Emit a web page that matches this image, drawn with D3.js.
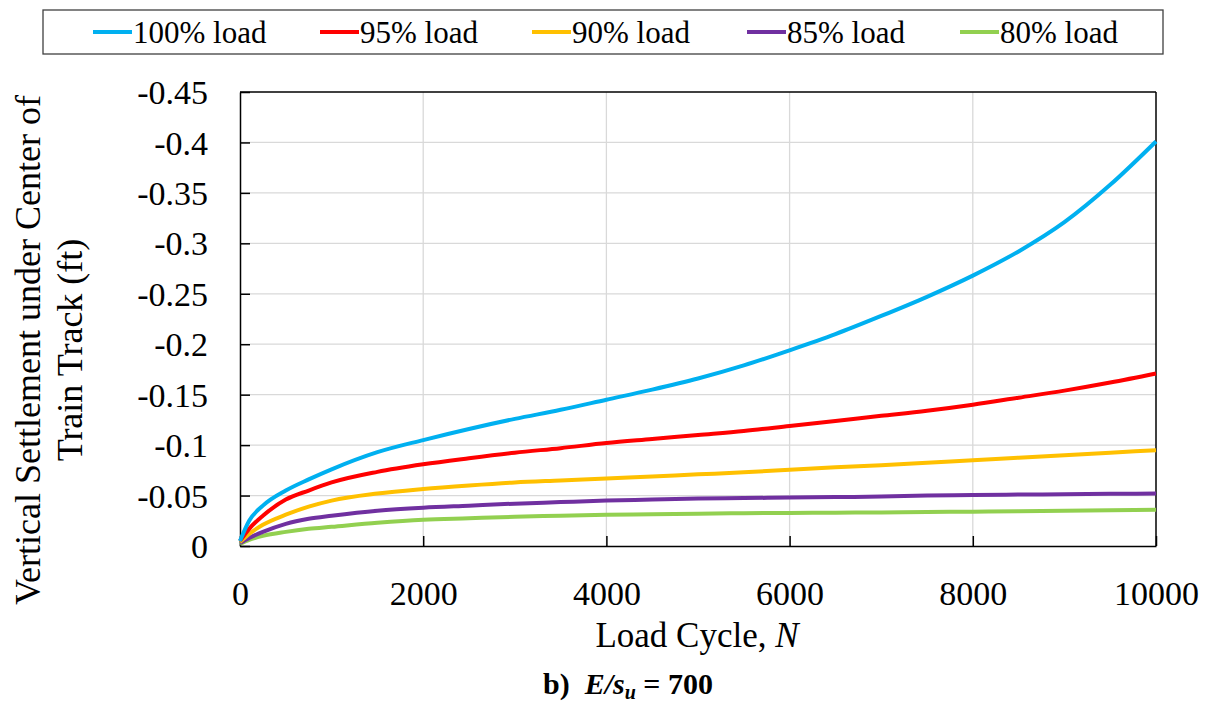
<!DOCTYPE html>
<html>
<head>
<meta charset="utf-8">
<script src="https://cdn.jsdelivr.net/npm/d3@7"></script>
<style>
  body { margin: 0; background: #fff; }
</style>
</head>
<body>
<div id="chart"></div>
<script>
var serif = 'Liberation Serif'

// load cycles (x) shared by every series
var cycles = [0, 100, 250, 500, 750, 1000, 1500, 2000, 2500, 3000, 3500, 4000, 4500,
              5000, 5500, 6000, 6500, 7000, 7500, 8000, 8500, 9000, 9500, 10000]

// settlement (ft)
var load100 = [-0.005, -0.025, -0.040, -0.055, -0.066, -0.076, -0.093, -0.105, -0.116, -0.126, -0.135, -0.145, -0.155,
               -0.166, -0.179, -0.194, -0.210, -0.228, -0.247, -0.268, -0.292, -0.321, -0.358, -0.401]
var load95 = [-0.005, -0.017, -0.030, -0.046, -0.055, -0.063, -0.0735, -0.081, -0.087, -0.0925, -0.097, -0.102, -0.106,
              -0.110, -0.114, -0.119, -0.124, -0.129, -0.134, -0.140, -0.147, -0.154, -0.162, -0.171]
var load90 = [-0.004, -0.012, -0.021, -0.031, -0.039, -0.045, -0.052, -0.0565, -0.060, -0.063, -0.065, -0.067, -0.069,
              -0.071, -0.073, -0.0755, -0.078, -0.080, -0.0825, -0.085, -0.0875, -0.090, -0.0925, -0.095]
var load85 = [-0.003, -0.008, -0.014, -0.022, -0.027, -0.030, -0.035, -0.038, -0.040, -0.042, -0.0435, -0.045, -0.046,
              -0.047, -0.0475, -0.048, -0.0485, -0.049, -0.050, -0.0505, -0.051, -0.0513, -0.0517, -0.052]
var load80 = [-0.002, -0.006, -0.010, -0.014, -0.017, -0.019, -0.023, -0.026, -0.0275, -0.029, -0.030, -0.031, -0.0315,
              -0.032, -0.0325, -0.0328, -0.033, -0.0333, -0.0337, -0.034, -0.0345, -0.035, -0.0355, -0.036]

var seriesNames = ['100% load', '95% load', '90% load', '85% load', '80% load']
var seriesColors = ['#00B0F0', '#FF0000', '#FFC000', '#7030A0', '#92D050']
var seriesValues = [load100, load95, load90, load85, load80]

var xTicks = [0, 2000, 4000, 6000, 8000, 10000]
var yTicks = [0, -0.05, -0.1, -0.15, -0.2, -0.25, -0.3, -0.35, -0.4, -0.45]

var width = 1214, height = 706
var plot = {left: 240, top: 92, right: 1156, bottom: 546}

var svg = d3.select('#chart').append('svg')
    .attr('width', width)
    .attr('height', height)
    .attr('font-family', serif)

var x = d3.scaleLinear().domain([0, 10000]).range([plot.left, plot.right])
var y = d3.scaleLinear().domain([0, -0.45]).range([plot.bottom, plot.top])

// gridlines
svg.append('g')
    .selectAll('line')
    .data(yTicks.slice(1, -1))
    .enter().append('line')
    .attr('x1', plot.left).attr('x2', plot.right)
    .attr('y1', function(d) { return y(d) }).attr('y2', function(d) { return y(d) })
    .attr('stroke', '#d9d9d9').attr('stroke-width', 1.3)

svg.append('g')
    .selectAll('line')
    .data(xTicks.slice(1, -1))
    .enter().append('line')
    .attr('x1', function(d) { return x(d) }).attr('x2', function(d) { return x(d) })
    .attr('y1', plot.top).attr('y2', plot.bottom)
    .attr('stroke', '#d9d9d9').attr('stroke-width', 1.3)

// axes with inside ticks
var xAxis = svg.append('g')
    .attr('transform', 'translate(0,' + plot.bottom + ')')
    .call(d3.axisBottom(x).tickValues(xTicks).tickSizeInner(-10).tickSizeOuter(0).tickFormat(d3.format('d')))
xAxis.attr('font-family', serif).attr('font-size', 34)
xAxis.select('.domain').attr('stroke', '#000').attr('stroke-width', 1.5)
xAxis.selectAll('.tick line').attr('stroke', '#000').attr('stroke-width', 1.5)
xAxis.selectAll('text').attr('y', 59).attr('dy', null).attr('fill', '#000')

var yAxis = svg.append('g')
    .attr('transform', 'translate(' + plot.left + ',0)')
    .call(d3.axisLeft(y).tickValues(yTicks).tickSizeInner(-10).tickSizeOuter(0)
        .tickFormat(function(d) { return d === 0 ? '0' : String(d) }))
yAxis.attr('font-family', serif).attr('font-size', 34)
yAxis.select('.domain').attr('stroke', '#000').attr('stroke-width', 1.5)
yAxis.selectAll('.tick line').attr('stroke', '#000').attr('stroke-width', 1.5)
yAxis.selectAll('text').attr('x', -32).attr('dy', '0.34em').attr('fill', '#000')

// top and right frame
svg.append('line')
    .attr('x1', plot.left).attr('x2', plot.right).attr('y1', plot.top).attr('y2', plot.top)
    .attr('stroke', '#000').attr('stroke-width', 1.5)
svg.append('line')
    .attr('x1', plot.right).attr('x2', plot.right).attr('y1', plot.top).attr('y2', plot.bottom)
    .attr('stroke', '#000').attr('stroke-width', 1.5)

// curves
var line = d3.line()
    .x(function(d, i) { return x(cycles[i]) })
    .y(function(d) { return y(d) })
    .curve(d3.curveMonotoneX)

svg.append('g')
    .selectAll('path')
    .data(seriesValues.slice().reverse())
    .enter().append('path')
    .attr('d', line)
    .attr('fill', 'none')
    .attr('stroke', function(d, i) { return seriesColors[seriesColors.length - 1 - i] })
    .attr('stroke-width', 4)

// axis titles
var xTitle = svg.append('text')
    .attr('x', 697).attr('y', 647)
    .attr('text-anchor', 'middle')
    .attr('font-size', 35)
xTitle.append('tspan').text('Load Cycle, ')
xTitle.append('tspan').attr('font-style', 'italic').text('N')

var yTitle = svg.append('text')
    .attr('transform', 'translate(40,350) rotate(-90)')
    .attr('text-anchor', 'middle')
    .attr('font-size', 36)
yTitle.append('tspan').attr('x', 0).attr('y', 0).text('Vertical Settlement under Center of')
yTitle.append('tspan').attr('x', 0).attr('y', 42).text('Train Track (ft)')

// caption
var caption = svg.append('text')
    .attr('x', 628).attr('y', 694)
    .attr('text-anchor', 'middle')
    .attr('font-size', 30)
    .attr('font-weight', 'bold')
caption.append('tspan').text('b)\u00a0\u00a0')
caption.append('tspan').attr('font-style', 'italic').text('E/s')
caption.append('tspan').attr('font-style', 'italic').attr('font-size', 20).attr('dy', 5).text('u')
caption.append('tspan').attr('dy', -5).text(' = 700')

// legend
svg.append('rect')
    .attr('x', 43).attr('y', 10).attr('width', 1120).attr('height', 44)
    .attr('fill', '#fff').attr('stroke', '#404040').attr('stroke-width', 1.3)

var legendX = [93, 320, 532, 747, 960]
var legend = svg.append('g')
    .selectAll('g')
    .data(seriesNames)
    .enter().append('g')
    .attr('transform', function(d, i) { return 'translate(' + legendX[i] + ',32)' })
legend.append('line')
    .attr('x1', 0).attr('x2', 39).attr('y1', 0).attr('y2', 0)
    .attr('stroke', function(d, i) { return seriesColors[i] })
    .attr('stroke-width', 4)
legend.append('text')
    .attr('x', 40).attr('y', 11)
    .attr('font-size', 31)
    .text(function(d) { return d })
</script>
</body>
</html>
